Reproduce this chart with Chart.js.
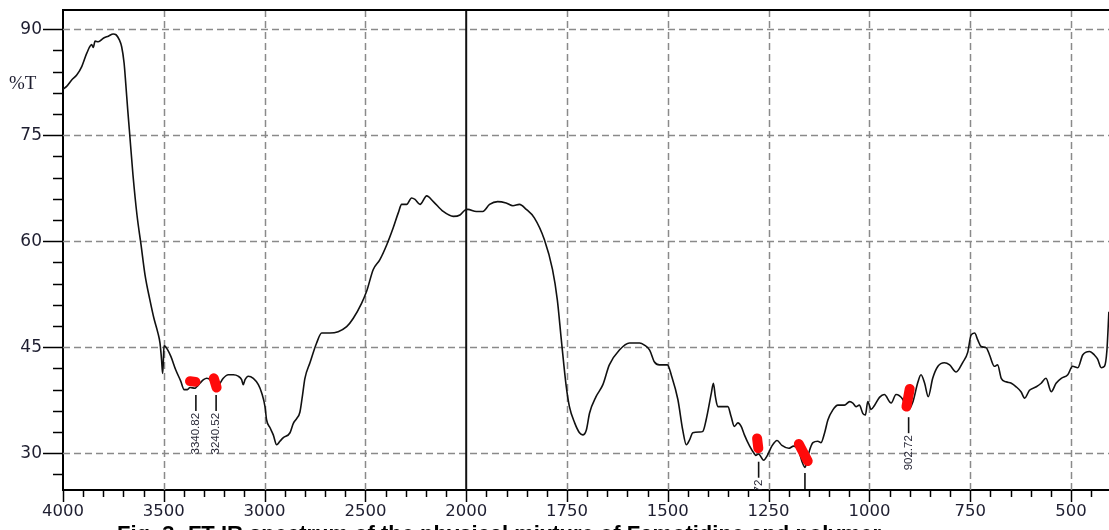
<!DOCTYPE html>
<html>
<head>
<meta charset="utf-8">
<title>FT-IR spectrum</title>
<script src="https://cdn.jsdelivr.net/npm/chart.js@4.4.1/dist/chart.umd.min.js"></script>
<style>
  html, body { margin: 0; padding: 0; background: #fff; }
  canvas { display: block; }
</style>
</head>
<body>
<canvas id="ftir" width="1109" height="530"></canvas>
<script>
// spectrum: wavenumber (cm-1) and %T
const waveNumbers = [
  4000, 3982, 3957, 3932, 3907, 3882, 3858, 3850, 3841, 3825, 3800, 3775, 3751, 3737, 3721, 3709,
  3697, 3689, 3679, 3671, 3653, 3633, 3613, 3593, 3569, 3549, 3529, 3519, 3511, 3506, 3503, 3499,
  3492, 3465, 3441, 3416, 3399, 3383, 3370, 3345, 3337, 3321, 3303, 3287, 3271, 3255, 3240, 3221,
  3205, 3180, 3155, 3131, 3114, 3106, 3097, 3081, 3056, 3031, 3014, 2998, 2990, 2973, 2957, 2940,
  2924, 2907, 2874, 2858, 2841, 2825, 2812, 2800, 2775, 2742, 2717, 2676, 2635, 2593, 2560, 2519,
  2494, 2461, 2428, 2394, 2362, 2337, 2320, 2295, 2271, 2254, 2229, 2196, 2163, 2114, 2064, 2031,
  2006, 1996, 1975, 1959, 1942, 1922, 1901, 1884, 1868, 1851, 1831, 1806, 1786, 1774, 1764, 1752,
  1744, 1731, 1719, 1711, 1702, 1694, 1678, 1661, 1645, 1620, 1595, 1570, 1558, 1545, 1533, 1521,
  1501, 1491, 1475, 1463, 1454, 1446, 1438, 1421, 1413, 1405, 1392, 1387, 1382, 1376, 1364, 1351,
  1343, 1335, 1326, 1318, 1310, 1297, 1285, 1282, 1275, 1262, 1254, 1242, 1229, 1217, 1200, 1188,
  1175, 1167, 1160, 1156, 1149, 1140, 1128, 1120, 1111, 1103, 1091, 1078, 1062, 1049, 1041, 1033,
  1025, 1016, 1010, 1004, 996, 987, 975, 963, 946, 934, 917, 905, 892, 880, 872, 863,
  854, 843, 830, 814, 801, 785, 768, 756, 748, 739, 731, 723, 710, 702, 690, 682,
  673, 661, 648, 636, 624, 615, 603, 586, 574, 562, 549, 537, 524, 508, 496, 483,
  471, 454, 442, 434, 425, 417, 411, 406
];
const transmittance = [
  81.5, 81.9, 82.8, 83.5, 84.7, 86.6, 87.8, 87.4, 88.3, 88.2, 88.7, 89.0, 89.3, 89.2, 88.5, 87.5,
  85.2, 82.4, 78.6, 75.8, 69.4, 63.7, 59.5, 55.2, 51.7, 49.1, 47.0, 45.6, 43.2, 41.3, 42.5, 45.2,
  45.1, 43.7, 41.8, 40.2, 39.0, 39.0, 39.3, 39.2, 39.4, 39.9, 40.4, 40.6, 40.4, 39.7, 39.0, 39.9,
  40.6, 41.1, 41.1, 40.9, 40.4, 39.7, 40.4, 40.9, 40.6, 39.7, 38.5, 36.6, 34.7, 33.6, 32.6, 31.2,
  31.7, 32.2, 32.9, 34.2, 34.9, 35.8, 38.2, 40.6, 42.8, 45.6, 47.0, 47.0, 47.2, 47.9, 49.1, 51.2,
  52.9, 56.0, 57.4, 59.5, 61.9, 64.0, 65.2, 65.2, 66.1, 65.9, 65.2, 66.4, 65.6, 64.2, 63.5, 63.7,
  64.4, 64.5, 64.2, 64.2, 65.2, 65.6, 65.4, 65.0, 65.2, 64.5, 63.3, 60.2, 56.0, 51.7, 46.0, 39.5,
  36.6, 34.3, 32.9, 32.6, 33.3, 35.7, 38.0, 39.7, 42.5, 44.6, 45.6, 45.6, 45.3, 44.6, 42.9, 42.5,
  42.5, 41.0, 37.6, 33.3, 31.2, 31.9, 32.9, 33.0, 33.1, 34.7, 38.5, 39.9, 38.0, 36.6, 36.6, 36.6,
  35.2, 33.8, 34.3, 33.8, 32.6, 31.0, 29.9, 29.7, 29.9, 29.0, 29.6, 31.0, 31.8, 31.1, 30.7, 31.0,
  30.3, 28.8, 28.0, 28.6, 30.3, 31.5, 31.7, 31.5, 32.9, 34.7, 36.1, 36.8, 36.8, 37.3, 37.1, 36.6,
  36.8, 35.6, 35.4, 37.3, 36.2, 36.8, 37.9, 38.3, 37.1, 38.3, 37.6, 36.1, 37.3, 40.0, 41.1, 39.9,
  38.0, 40.6, 42.3, 42.8, 42.5, 41.5, 42.9, 44.3, 46.7, 47.0, 46.0, 45.1, 44.9, 43.9, 42.3, 42.5,
  40.6, 40.1, 39.9, 39.4, 38.7, 37.8, 38.9, 39.4, 39.9, 40.6, 38.7, 39.9, 40.6, 41.1, 42.3, 42.1,
  43.9, 44.4, 43.9, 43.3, 42.1, 42.3, 44.5, 50.0
];

// picked peaks: wavenumber, %T where the marker stem starts
const peakWaves = [3340.82, 3240.52, 1274.72, 1159.86, 902.72];
const peakStemTop = [38.25, 38.25, 28.8, 27.2, 35.1];

// red highlight strokes at the picked peaks (start / end of each stroke)
const markWaves = [[3370, 3343], [3252, 3238], [1278.5, 1275.5], [1175, 1153], [900, 908]];
const markValues = [[40.2, 40.1], [40.6, 39.3], [32.1, 30.7], [31.3, 28.9], [39.1, 36.6]];

// axes
const xMajorTicks = [4000, 3500, 3000, 2500, 2000, 1750, 1500, 1250, 1000, 750, 500];
const yMajorTicks = [30, 45, 60, 75, 90];
const yLabel = '%T';
const caption = 'Fig. 3: FT-IR spectrum of the physical mixture of Famotidine and polymer';

// the wavenumber axis changes scale at 2000 cm-1 (500 per division above, 250 below)
const BREAK = 2000;
const X_MAX_UNITS = 10.377;
function toUnits(wn) {
  return wn >= BREAK ? (4000 - wn) / 500 : 4 + (BREAK - wn) / 250;
}
function fromUnits(u) {
  return u <= 4 ? 4000 - u * 500 : BREAK - (u - 4) * 250;
}

// minor ticks every 100 above the break, every 50 below
const xTicks = [];
for (let w = 4000; w >= BREAK; w -= 100) xTicks.push(w);
for (let w = BREAK - 50; w >= 450; w -= 50) xTicks.push(w);
const yTicks = [];
for (let v = 27; v <= 90; v += 3) yTicks.push(v);

class WavenumberScale extends Chart.LinearScale {
  getPixelForValue(value) {
    return value === null ? NaN : super.getPixelForValue(toUnits(value));
  }
  getValueForPixel(pixel) {
    return fromUnits(super.getValueForPixel(pixel));
  }
  buildTicks() {
    this.start = this.min;
    this.end = this.max;
    return xTicks.map(v => ({ value: v }));
  }
}
WavenumberScale.id = 'wavenumber';
Chart.register(WavenumberScale);

const spectrum = waveNumbers.map((w, i) => ({ x: w, y: transmittance[i] }));
const markSets = markWaves.map((ws, i) => ({
  data: ws.map((w, j) => ({ x: w, y: markValues[i][j] })),
  borderColor: '#ff0a0a',
  borderWidth: 10,
  borderCapStyle: 'round',
  borderJoinStyle: 'round',
  pointRadius: 0,
  order: 0
}));

function isMajorX(v) { return xMajorTicks.indexOf(v) !== -1; }
function isMajorY(v) { return yMajorTicks.indexOf(v) !== -1; }

// grid, tick marks, peak stems and texts
const ftirDecor = {
  id: 'ftirDecor',
  beforeDatasetsDraw(chart) {
    const { ctx, chartArea: a, scales: { x, y } } = chart;
    ctx.save();
    ctx.strokeStyle = '#8a8a8a';
    ctx.lineWidth = 1.5;
    ctx.setLineDash([7, 4]);
    yMajorTicks.forEach(v => {
      const py = Math.round(y.getPixelForValue(v)) + 0.5;
      ctx.beginPath(); ctx.moveTo(a.left, py); ctx.lineTo(a.right, py); ctx.stroke();
    });
    xMajorTicks.forEach(v => {
      if (v === 4000 || v === BREAK) return;
      const px = Math.round(x.getPixelForValue(v)) + 0.5;
      ctx.beginPath(); ctx.moveTo(px, a.top); ctx.lineTo(px, a.bottom); ctx.stroke();
    });
    ctx.setLineDash([]);
    // solid line at the scale change
    const pb = x.getPixelForValue(BREAK);
    ctx.strokeStyle = '#111';
    ctx.lineWidth = 2;
    ctx.beginPath(); ctx.moveTo(pb, a.top); ctx.lineTo(pb, a.bottom); ctx.stroke();
    ctx.restore();
  },
  afterDatasetsDraw(chart) {
    const { ctx, chartArea: a, scales: { x, y } } = chart;
    ctx.save();
    ctx.beginPath();
    ctx.rect(a.left, a.top, a.right - a.left, a.bottom - a.top);
    ctx.clip();
    ctx.strokeStyle = '#111';
    ctx.lineWidth = 1.6;
    ctx.fillStyle = '#2b2b3a';
    ctx.font = '11.5px "Liberation Sans", Arial, sans-serif';
    ctx.textAlign = 'right';
    ctx.textBaseline = 'middle';
    peakWaves.forEach((w, i) => {
      const px = x.getPixelForValue(w);
      const top = y.getPixelForValue(peakStemTop[i]);
      ctx.beginPath(); ctx.moveTo(px, top); ctx.lineTo(px, top + 16); ctx.stroke();
      ctx.save();
      ctx.translate(px, top + 18);
      ctx.rotate(-Math.PI / 2);
      ctx.fillText(w.toFixed(2), 0, 0);
      ctx.restore();
    });
    ctx.restore();

    // tick marks outside the frame
    ctx.save();
    ctx.strokeStyle = '#000';
    ctx.lineWidth = 1.5;
    yTicks.forEach(v => {
      const py = Math.round(y.getPixelForValue(v)) + 0.5;
      const len = isMajorY(v) ? 20 : 10;
      ctx.beginPath(); ctx.moveTo(a.left - len, py); ctx.lineTo(a.left, py); ctx.stroke();
    });
    xTicks.forEach(v => {
      const px = Math.round(x.getPixelForValue(v)) + 0.5;
      const len = isMajorX(v) ? 12 : 7;
      ctx.beginPath(); ctx.moveTo(px, a.bottom); ctx.lineTo(px, a.bottom + len); ctx.stroke();
    });
    // top frame line
    ctx.lineWidth = 2;
    ctx.beginPath(); ctx.moveTo(a.left, a.top); ctx.lineTo(a.right, a.top); ctx.stroke();
    ctx.restore();
  },
  afterDraw(chart) {
    const { ctx } = chart;
    ctx.save();
    ctx.fillStyle = '#1e1e30';
    ctx.font = '19px "Liberation Serif", "Times New Roman", serif';
    ctx.textAlign = 'left';
    ctx.textBaseline = 'alphabetic';
    ctx.fillText(yLabel, 9, 89);
    ctx.fillStyle = '#000';
    ctx.font = 'bold 22px "Liberation Sans", Arial, sans-serif';
    ctx.fillText(caption, 117, 541);
    ctx.restore();
  }
};

new Chart(document.getElementById('ftir'), {
  type: 'line',
  data: {
    datasets: [
      ...markSets,
      {
        data: spectrum,
        borderColor: '#111',
        borderWidth: 1.6,
        pointRadius: 0,
        cubicInterpolationMode: 'monotone',
        order: 1
      }
    ]
  },
  options: {
    responsive: false,
    animation: false,
    devicePixelRatio: 1,
    layout: { padding: { top: 10, right: 0, bottom: 0, left: 0 } },
    plugins: { legend: { display: false }, tooltip: { enabled: false } },
    scales: {
      x: {
        type: 'wavenumber',
        min: 0,
        max: X_MAX_UNITS,
        grid: { display: false, drawTicks: false },
        border: { display: true, color: '#000', width: 2 },
        ticks: {
          autoSkip: false,
          maxRotation: 0,
          padding: 12,
          color: '#1e1e30',
          font: { family: '"DejaVu Sans", Verdana, sans-serif', size: 16.5 },
          callback: v => isMajorX(v) ? String(v) : ''
        },
        afterFit: s => { s.height = 40; s.paddingLeft = 0; s.paddingRight = 0; }
      },
      y: {
        min: 24.8,
        max: 92.7,
        grid: { display: false, drawTicks: false },
        border: { display: true, color: '#000', width: 2 },
        afterBuildTicks: s => { s.ticks = yTicks.map(v => ({ value: v })); },
        ticks: {
          autoSkip: false,
          padding: 21,
          color: '#1e1e30',
          font: { family: '"DejaVu Sans", Verdana, sans-serif', size: 17 },
          callback: v => isMajorY(v) ? String(v) : ''
        },
        afterFit: s => { s.width = 63; s.paddingTop = 0; s.paddingBottom = 0; }
      }
    }
  },
  plugins: [ftirDecor]
});
</script>
</body>
</html>
